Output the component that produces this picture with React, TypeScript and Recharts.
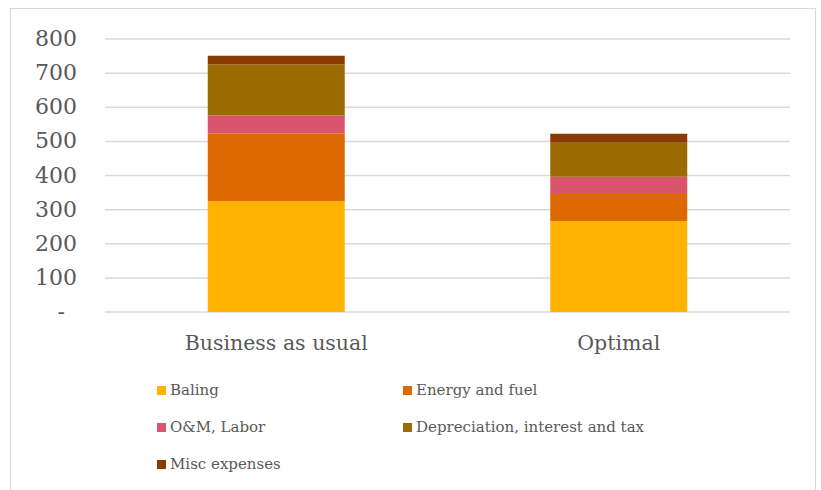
import React from 'react';
import { BarChart, Bar, XAxis, YAxis, CartesianGrid } from 'recharts';

const categories = ['Business as usual', 'Optimal'];
const baling = [325, 267];
const energyFuel = [199, 79];
const omLabor = [52, 50];
const depreciation = [149, 100];
const misc = [26, 26];
const yTicks = [0, 100, 200, 300, 400, 500, 600, 700, 800];

const series = [
  { key: 'baling', name: 'Baling', color: '#FFB300' },
  { key: 'energy', name: 'Energy and fuel', color: '#DD6A00' },
  { key: 'om', name: 'O&M, Labor', color: '#D9546C' },
  { key: 'dep', name: 'Depreciation, interest and tax', color: '#9A6B00' },
  { key: 'misc', name: 'Misc expenses', color: '#8A3C00' },
];

const data = categories.map((name, i) => ({
  name,
  baling: baling[i],
  energy: energyFuel[i],
  om: omLabor[i],
  dep: depreciation[i],
  misc: misc[i],
}));

const FONT = '"DejaVu Serif", Georgia, serif';

const YTick = ({ x, y, payload }: any) => (
  <text
    x={payload.value === 0 ? x - 32 : x - 20}
    y={y}
    dy={7}
    textAnchor="end"
    fill="#595959"
    fontSize={22}
    fontFamily={FONT}
  >
    {payload.value === 0 ? '-' : payload.value}
  </text>
);

const XTick = ({ x, y, payload }: any) => (
  <text x={x} y={y} dy={30} textAnchor="middle" fill="#595959" fontSize={20.5} fontFamily={FONT}>
    {payload.value}
  </text>
);

const LegendBox = () => (
  <div
    style={{
      position: 'absolute',
      left: 157,
      top: 380,
      display: 'grid',
      gridTemplateColumns: '246px 300px',
      rowGap: 17,
      fontFamily: FONT,
      fontSize: 15,
      color: '#595959',
    }}
  >
    {series.map((s) => (
      <div key={s.key} style={{ display: 'flex', alignItems: 'center', height: 20 }}>
        <span
          style={{ width: 9, height: 9, background: s.color, display: 'inline-block', marginRight: 4 }}
        />
        {s.name}
      </div>
    ))}
  </div>
);

export default function App() {
  return (
    <div style={{ position: 'absolute', left: 0, top: 0, width: 821, height: 490, background: '#fff', overflow: 'hidden' }}>
      <div
        style={{
          position: 'absolute',
          left: 10,
          top: 8,
          width: 804,
          height: 500,
          border: '1px solid #d9d9d9',
        }}
      />
      <div style={{ position: 'absolute', left: 0, top: 0 }}>
        <BarChart
          width={821}
          height={490}
          data={data}
          margin={{ top: 39, right: 31, left: 0, bottom: 0 }}
          barCategoryGap="30%"
        >
          <CartesianGrid vertical={false} stroke="#d9d9d9" strokeWidth={1.5} />
          <XAxis dataKey="name" height={178} axisLine={false} tickLine={false} tick={<XTick />} />
          <YAxis
            width={105}
            domain={[0, 800]}
            ticks={yTicks}
            axisLine={false}
            tickLine={false}
            tick={<YTick />}
            interval={0}
          />
          {series.map((s) => (
            <Bar key={s.key} dataKey={s.key} name={s.name} stackId="a" fill={s.color} isAnimationActive={false} />
          ))}
        </BarChart>
      </div>
      <LegendBox />
    </div>
  );
}
